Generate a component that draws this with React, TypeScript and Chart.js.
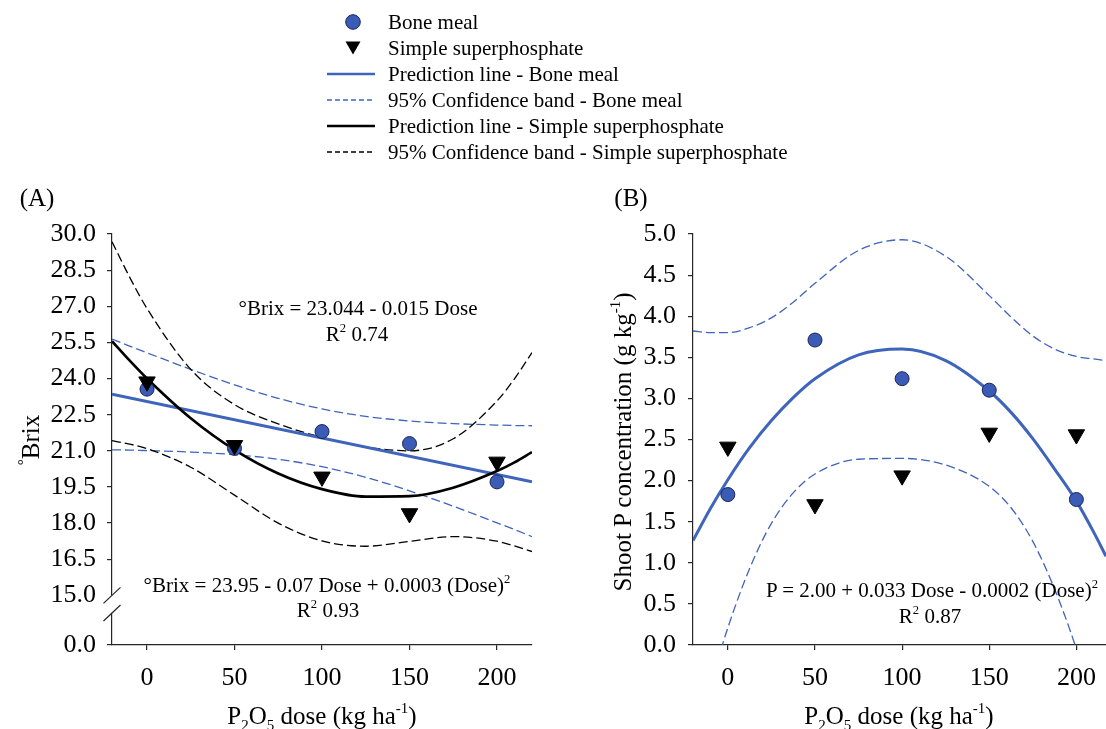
import React, { useEffect, useRef } from 'react';
import { Chart, registerables } from 'chart.js';

Chart.register(...registerables);

// ---------- data ----------
const doses = [0, 50, 100, 150, 200];
const doseTicks = [0, 50, 100, 150, 200];

// Panel A: °Brix
const brixBoneMeal = [23.56, 21.1, 21.8, 21.3, 19.71];
const brixSuperphosphate = [23.87, 21.23, 19.92, 18.4, 20.54];

const brixLineBoneMealX = [-20, 220];
const brixLineBoneMeal = [23.35, 19.72];

const brixCurveX = [-20, -10, 0, 25, 50, 75, 100, 125, 150, 175, 200, 210, 220];
const brixBandBoneMealUpper = [25.64, 25.35, 25.07, 24.38, 23.74, 23.18, 22.74, 22.43, 22.24, 22.13, 22.07, 22.05, 22.04];
const brixBandBoneMealLower = [21.04, 21.03, 21.01, 20.95, 20.84, 20.65, 20.34, 19.9, 19.34, 18.7, 18.01, 17.73, 17.44];
const brixLineSuper = [25.55, 24.75, 24.0, 22.35, 21.04, 20.06, 19.41, 19.1, 19.12, 19.47, 20.16, 20.52, 20.95];
const brixBandSuperUpper = [29.68, 28.22, 26.91, 24.38, 22.92, 22.12, 21.56, 21.16, 21.0, 21.5, 23.07, 23.99, 25.08];
const brixBandSuperLower = [21.42, 21.28, 21.09, 20.32, 19.16, 18.0, 17.26, 17.04, 17.24, 17.44, 17.25, 17.05, 16.82];

const brixTicks = [12.94, 15, 16.5, 18, 19.5, 21, 22.5, 24, 25.5, 27, 28.5, 30];
const brixTickLabels = ['0.0', '15.0', '16.5', '18.0', '19.5', '21.0', '22.5', '24.0', '25.5', '27.0', '28.5', '30.0'];
const brixBreak = [15, 14.27];

// Panel B: shoot P concentration
const shootPBoneMeal = [1.83, 3.71, 3.24, 3.1, 1.77];
const shootPSuper = [2.41, 1.71, 2.06, 2.58, 2.56];

const shootCurveX = [-20, -10, 0, 12.5, 25, 37.5, 50, 75, 100, 125, 150, 162.5, 175, 187.5, 200, 210, 217];
const shootLineBoneMeal = [1.27, 1.66, 2.01, 2.4, 2.73, 3.01, 3.24, 3.53, 3.6, 3.46, 3.09, 2.83, 2.51, 2.14, 1.75, 1.37, 1.08];
const shootBandUpper = [3.82, 3.8, 3.8, 3.86, 3.98, 4.17, 4.4, 4.8, 4.93, 4.73, 4.25, 3.99, 3.76, 3.6, 3.51, 3.48, 3.46];
const shootBandLower = [-1.28, -0.49, 0.21, 0.93, 1.48, 1.85, 2.08, 2.26, 2.27, 2.19, 1.93, 1.67, 1.26, 0.68, -0.05, -0.78, -1.35];

const legendLabels = [
  'Bone meal',
  'Simple superphosphate',
  'Prediction line - Bone meal',
  '95% Confidence band - Bone meal',
  'Prediction line - Simple superphosphate',
  '95% Confidence band - Simple superphosphate',
];

// ---------- styles ----------
const SERIF = '"Liberation Serif", "Times New Roman", serif';
const BLUE = '#3F64BC';
const DOT_FILL = '#3B5CB6';
const DOT_EDGE = '#1C2452';
const AXIS = '#262626';
const DASH = [9, 4];

const pts = (xs: number[], ys: number[]) => xs.map((x, i) => ({ x, y: ys[i] }));

const pointSet = (label: string, data: any, style: string, fill: string, edge: string, radius: number, rot: number) => ({
  label,
  data,
  showLine: false,
  pointStyle: style,
  pointRotation: rot,
  pointRadius: radius,
  pointHoverRadius: radius,
  pointBackgroundColor: fill,
  pointBorderColor: edge,
  pointBorderWidth: 1,
});

const lineSet = (label: string, data: any, color: string, width: number, dash: number[]) => ({
  label,
  data,
  showLine: true,
  borderColor: color,
  backgroundColor: color,
  borderWidth: width,
  borderDash: dash,
  pointRadius: 0,
  pointHoverRadius: 0,
  cubicInterpolationMode: 'monotone',
  fill: false,
});

const axisCommon = (fixedSize: (s: any) => void, padding: number) => ({
  type: 'linear',
  grid: {
    display: true,
    drawOnChartArea: false,
    drawTicks: true,
    tickLength: 5,
    color: AXIS,
    lineWidth: 1.2,
  },
  border: { display: true, color: AXIS, width: 1.2 },
  ticks: {
    color: '#000',
    font: { family: SERIF, size: 26 },
    padding,
    autoSkip: false,
    maxRotation: 0,
  },
  afterFit: fixedSize,
});

const axisBreakPlugin = {
  id: 'axisBreak',
  afterDraw(chart: any) {
    const { ctx, chartArea } = chart;
    const y = chart.scales.y;
    const x0 = chartArea.left;
    const yA = y.getPixelForValue(brixBreak[0]);
    const yB = y.getPixelForValue(brixBreak[1]);
    ctx.save();
    ctx.fillStyle = '#fff';
    ctx.fillRect(x0 - 3, yA, 6, yB - yA);
    ctx.strokeStyle = AXIS;
    ctx.lineWidth = 1.2;
    [yA, yB].forEach((yc) => {
      ctx.beginPath();
      ctx.moveTo(x0 - 8.5, yc + 8);
      ctx.lineTo(x0 + 8.5, yc - 8);
      ctx.stroke();
    });
    ctx.restore();
  },
};

function makeChartA(canvas: HTMLCanvasElement) {
  const xAxis: any = axisCommon((s: any) => { s.height = 84; }, 13);
  xAxis.min = -20;
  xAxis.max = 220;
  xAxis.afterBuildTicks = (s: any) => { s.ticks = doseTicks.map((v) => ({ value: v })); };
  xAxis.ticks.callback = (v: number) => String(v);

  const yAxis: any = axisCommon((s: any) => { s.width = 112; }, 11);
  yAxis.min = brixTicks[0];
  yAxis.max = 30;
  yAxis.afterBuildTicks = (s: any) => { s.ticks = brixTicks.map((v) => ({ value: v })); };
  yAxis.ticks.callback = (_v: number, i: number) => brixTickLabels[i];
  yAxis.grid.color = (c: any) => (c.tick && c.tick.value === brixBreak[0] ? 'rgba(0,0,0,0)' : AXIS);

  return new Chart(canvas, {
    type: 'scatter',
    data: {
      datasets: [
        pointSet('Simple superphosphate', pts(doses, brixSuperphosphate), 'triangle', '#000', '#000', 9.5, 180),
        pointSet('Bone meal', pts(doses, brixBoneMeal), 'circle', DOT_FILL, DOT_EDGE, 7, 0),
        lineSet('Prediction line - Simple superphosphate', pts(brixCurveX, brixLineSuper), '#000', 2.6, []),
        lineSet('Prediction line - Bone meal', pts(brixLineBoneMealX, brixLineBoneMeal), BLUE, 3, []),
        lineSet('95% Confidence band - Simple superphosphate (upper)', pts(brixCurveX, brixBandSuperUpper), '#000', 1.3, DASH),
        lineSet('95% Confidence band - Simple superphosphate (lower)', pts(brixCurveX, brixBandSuperLower), '#000', 1.3, DASH),
        lineSet('95% Confidence band - Bone meal (upper)', pts(brixCurveX, brixBandBoneMealUpper), BLUE, 1.3, DASH),
        lineSet('95% Confidence band - Bone meal (lower)', pts(brixCurveX, brixBandBoneMealLower), BLUE, 1.3, DASH),
      ] as any,
    },
    options: {
      responsive: false,
      animation: false,
      events: [],
      layout: { padding: { top: 234, right: 28, left: 0, bottom: 0 } },
      plugins: { legend: { display: false }, tooltip: { enabled: false } },
      scales: { x: xAxis, y: yAxis },
    } as any,
    plugins: [axisBreakPlugin],
  });
}

function makeChartB(canvas: HTMLCanvasElement) {
  const xAxis: any = axisCommon((s: any) => { s.height = 84; }, 13);
  xAxis.min = -20;
  xAxis.max = 217;
  xAxis.afterBuildTicks = (s: any) => { s.ticks = doseTicks.map((v) => ({ value: v })); };
  xAxis.ticks.callback = (v: number) => String(v);

  const yAxis: any = axisCommon((s: any) => { s.width = 133; }, 12);
  yAxis.min = 0;
  yAxis.max = 5;
  yAxis.ticks.stepSize = 0.5;
  yAxis.ticks.callback = (v: number) => Number(v).toFixed(1);

  return new Chart(canvas, {
    type: 'scatter',
    data: {
      datasets: [
        pointSet('Simple superphosphate', pts(doses, shootPSuper), 'triangle', '#000', '#000', 9.5, 180),
        pointSet('Bone meal', pts(doses, shootPBoneMeal), 'circle', DOT_FILL, DOT_EDGE, 7, 0),
        lineSet('Prediction line - Bone meal', pts(shootCurveX, shootLineBoneMeal), BLUE, 3, []),
        lineSet('95% Confidence band - Bone meal (upper)', pts(shootCurveX, shootBandUpper), BLUE, 1.3, DASH),
        lineSet('95% Confidence band - Bone meal (lower)', pts(shootCurveX, shootBandLower), BLUE, 1.3, DASH),
      ] as any,
    },
    options: {
      responsive: false,
      animation: false,
      events: [],
      // canvas runs 20px past the page edge so the plot area ends exactly at the right border
      layout: { padding: { top: 234, right: 20, left: 0, bottom: 0 } },
      plugins: { legend: { display: false }, tooltip: { enabled: false } },
      scales: { x: xAxis, y: yAxis },
    } as any,
  });
}

// ---------- text helpers ----------
const Sup = ({ children }: any) => (
  <span style={{ fontSize: '0.6em', position: 'relative', top: '-0.75em' }}>{children}</span>
);
const Sub = ({ children }: any) => (
  <span style={{ fontSize: '0.6em', position: 'relative', top: '0.4em' }}>{children}</span>
);

const Label = ({ x, y, size, rotate, children }: any) => (
  <div
    style={{
      position: 'absolute',
      left: x,
      top: y,
      transform: `translate(-50%, -50%)${rotate ? ' rotate(-90deg)' : ''}`,
      fontFamily: SERIF,
      fontSize: size,
      lineHeight: 1,
      whiteSpace: 'nowrap',
      color: '#000',
    }}
  >
    {children}
  </div>
);

const LegendMarker = ({ index }: { index: number }) => {
  if (index === 0) {
    return (
      <svg width={52} height={26}>
        <circle cx={27} cy={13} r={7.3} fill={DOT_FILL} stroke={DOT_EDGE} strokeWidth={1} />
      </svg>
    );
  }
  if (index === 1) {
    return (
      <svg width={52} height={26}>
        <polygon points="19.5,6.5 34.5,6.5 27,19.5" fill="#000" />
      </svg>
    );
  }
  const color = index === 2 || index === 3 ? BLUE : '#000';
  const dashed = index === 3 || index === 5;
  return (
    <svg width={52} height={26}>
      <line
        x1={1}
        y1={13}
        x2={49}
        y2={13}
        stroke={color}
        strokeWidth={dashed ? 1.3 : 2.6}
        strokeDasharray={dashed ? '5 3' : undefined}
      />
    </svg>
  );
};

export default function App() {
  const refA = useRef<HTMLCanvasElement | null>(null);
  const refB = useRef<HTMLCanvasElement | null>(null);

  useEffect(() => {
    const a = makeChartA(refA.current as HTMLCanvasElement);
    const b = makeChartB(refB.current as HTMLCanvasElement);
    return () => {
      a.destroy();
      b.destroy();
    };
  }, []);

  return (
    <div style={{ position: 'absolute', left: 0, top: 0, width: 1106, height: 729, background: '#fff', overflow: 'hidden' }}>
      <canvas ref={refA} width={560} height={729} style={{ position: 'absolute', left: 0, top: 0 }} />
      <canvas ref={refB} width={566} height={729} style={{ position: 'absolute', left: 560, top: 0 }} />

      {/* legend */}
      {legendLabels.map((text, i) => (
        <div
          key={text}
          style={{
            position: 'absolute',
            left: 326,
            top: 9 + 26 * i,
            height: 26,
            display: 'flex',
            alignItems: 'center',
            fontFamily: SERIF,
            fontSize: 21,
            whiteSpace: 'nowrap',
          }}
        >
          <LegendMarker index={i} />
          <span style={{ marginLeft: 10 }}>{text}</span>
        </div>
      ))}

      {/* panel labels */}
      <Label x={37} y={197} size={25}>(A)</Label>
      <Label x={631} y={197} size={25}>(B)</Label>

      {/* axis titles */}
      <Label x={30} y={440} size={25} rotate>
        <Sup>°</Sup>Brix
      </Label>
      <Label x={622} y={442} size={25} rotate>
        Shoot P concentration (g kg<Sup>-1</Sup>)
      </Label>
      <Label x={322} y={715} size={25}>
        P<Sub>2</Sub>O<Sub>5</Sub> dose (kg ha<Sup>-1</Sup>)
      </Label>
      <Label x={899} y={715} size={25}>
        P<Sub>2</Sub>O<Sub>5</Sub> dose (kg ha<Sup>-1</Sup>)
      </Label>

      {/* equations */}
      <Label x={358} y={308} size={21}>°Brix = 23.044 - 0.015 Dose</Label>
      <Label x={357} y={334} size={21}>
        R<Sup>2</Sup> 0.74
      </Label>
      <Label x={327} y={585} size={21}>
        °Brix = 23.95 - 0.07 Dose + 0.0003 (Dose)<Sup>2</Sup>
      </Label>
      <Label x={328} y={610} size={21}>
        R<Sup>2</Sup> 0.93
      </Label>
      <Label x={932} y={590} size={21}>
        P = 2.00 + 0.033 Dose - 0.0002 (Dose)<Sup>2</Sup>
      </Label>
      <Label x={930} y={616} size={21}>
        R<Sup>2</Sup> 0.87
      </Label>
    </div>
  );
}
